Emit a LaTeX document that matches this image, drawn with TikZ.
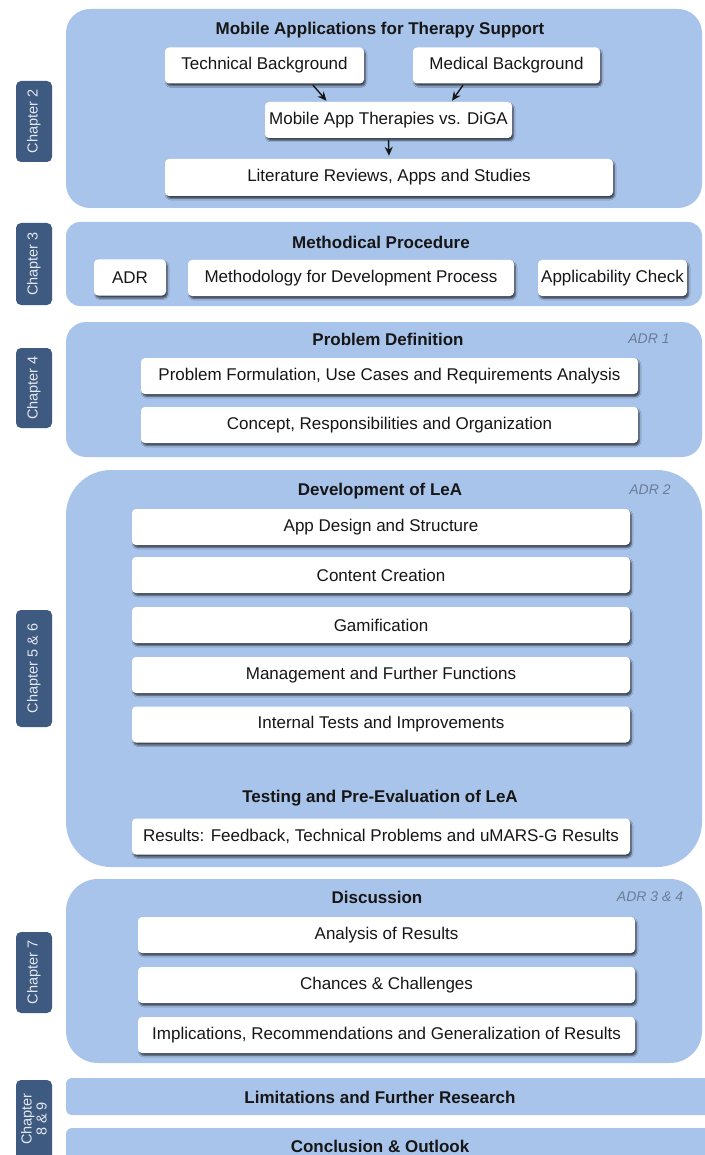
\documentclass[tikz,border=0pt]{standalone}
\usepackage{fontspec}
\setmainfont{Liberation Sans}
\usetikzlibrary{shadows.blur,arrows.meta}
\definecolor{panelblue}{HTML}{A9C4EB}
\definecolor{tabblue}{HTML}{3F5A80}
\definecolor{tabtext}{HTML}{E2E8F0}
\definecolor{adrgrey}{HTML}{6A7C96}
\definecolor{ink}{HTML}{161616}
\begin{document}
\begin{tikzpicture}[x=1pt,y=-1pt,
  panel/.style={fill=panelblue},
  tab/.style={fill=tabblue, rounded corners=5pt},
  tablabel/.style={rotate=90, text=tabtext, font=\fontsize{14.5}{15}\selectfont, align=center},
  box/.style={fill=white, rounded corners=4pt, minimum height=36pt, inner sep=0pt,
    font=\fontsize{17}{20}\selectfont, text=ink,
    blur shadow={shadow xshift=1.5pt, shadow yshift=-2.5pt, shadow blur radius=1.5pt,
      shadow blur steps=5, shadow opacity=65}},
  heading/.style={font=\bfseries\fontsize{17}{20}\selectfont, text=ink},
  adr/.style={font=\itshape\fontsize{14}{16}\selectfont, text=adrgrey},
  flow/.style={-{Stealth[length=9pt,width=8pt]}, line width=1.4pt, draw=ink}]

% canvas
\fill[white] (0,0) rectangle (704,1155);
\useasboundingbox (0,0) rectangle (704,1155);

% ---------- chapter panels ----------
\fill[panel, rounded corners=24pt] (66,9) rectangle (702,208);
\fill[panel, rounded corners=14pt] (66,222) rectangle (702,306);
\fill[panel, rounded corners=20pt] (66,322) rectangle (702,457);
\fill[panel, rounded corners=45pt] (66,470) rectangle (702,867);
\fill[panel, rounded corners=32pt] (66,879) rectangle (702,1063);
\fill[panel, rounded corners=6pt] (66,1078) rectangle (716,1115);
\fill[panel, rounded corners=6pt] (66,1128) rectangle (716,1175);

% ---------- chapter tabs ----------
\fill[tab] (16,81) rectangle (52,162);
\node[tablabel] (c2) at (34,121.5) {Chapter 2};
\fill[tab] (16,223) rectangle (52,305);
\node[tablabel] (c3) at (34,264) {Chapter 3};
\fill[tab] (16,348) rectangle (52,428);
\node[tablabel] (c4) at (34,388) {Chapter 4};
\fill[tab] (16,610) rectangle (52,727);
\node[tablabel] (c56) at (34,668.5) {Chapter 5 \& 6};
\fill[tab] (16,932) rectangle (52,1013);
\node[tablabel] (c7) at (34,972.5) {Chapter 7};
\fill[tab] (16,1080) rectangle (52,1175);
\node[tablabel, font=\fontsize{14.5}{15}\selectfont] (c89) at (34,1119) {Chapter\\8 \& 9};

% ---------- Chapter 2 ----------
\node[heading] (t2) at (380,30) {Mobile Applications for Therapy Support};
\node[box, minimum width=199pt] (tech) at (264.5,65.5) {Technical Background};
\node[box, minimum width=187pt] (med) at (506.5,65.5) {Medical Background};
\node[box, minimum width=247pt] (diga) at (388.5,120) {Mobile App Therapies vs. DiGA};
\node[box, minimum width=448pt, minimum height=37pt] (lit) at (389,177.5) {Literature Reviews, Apps and Studies};
\draw[flow] ([xshift=48.5pt,yshift=-1.5pt]tech.south) -- ([xshift=-62pt,yshift=1pt]diga.north);
\draw[flow] ([xshift=-43.5pt,yshift=-1.5pt]med.south) -- ([xshift=63.5pt,yshift=1pt]diga.north);
\draw[flow] ([yshift=-1.5pt]diga.south) -- ([yshift=3pt]lit.north);

% ---------- Chapter 3 ----------
\node[heading] (t3) at (381,242) {Methodical Procedure};
\node[box, minimum width=72pt] (adr) at (130,277.5) {ADR};
\node[box, minimum width=326pt] (meth) at (351,278) {Methodology for Development Process};
\node[box, minimum width=149pt] (appl) at (612.5,278) {Applicability Check};

% ---------- Chapter 4 ----------
\node[heading] (t4) at (388,339) {Problem Definition};
\node[adr] (a1) at (649,339) {ADR 1};
\node[box, minimum width=497pt] (prob) at (389.5,376) {Problem Formulation, Use Cases and Requirements Analysis};
\node[box, minimum width=497pt] (conc) at (389.5,425) {Concept, Responsibilities and Organization};

% ---------- Chapter 5 & 6 ----------
\node[heading] (t5) at (380,491) {Development of LeA};
\node[adr] (a2) at (650,490) {ADR 2};
\node[box, minimum width=498pt] (design) at (381,527) {App Design and Structure};
\node[box, minimum width=498pt] (content) at (381,575) {Content Creation};
\node[box, minimum width=498pt] (gami) at (381,625) {Gamification};
\node[box, minimum width=498pt] (mgmt) at (381,675) {Management and Further Functions};
\node[box, minimum width=498pt] (tests) at (381,724.5) {Internal Tests and Improvements};
\node[heading] (t6) at (380,798) {Testing and Pre-Evaluation of LeA};
\node[box, minimum width=498pt] (res) at (381,836.5) {Results: Feedback, Technical Problems and uMARS-G Results};

% ---------- Chapter 7 ----------
\node[heading] (t7) at (377,897) {Discussion};
\node[adr] (a34) at (650,897) {ADR 3 \& 4};
\node[box, minimum width=497pt] (anal) at (386.5,935) {Analysis of Results};
\node[box, minimum width=497pt] (chance) at (386.5,985) {Chances \& Challenges};
\node[box, minimum width=497pt] (impl) at (386.5,1035) {Implications, Recommendations and Generalization of Results};

% ---------- Chapters 8 & 9 ----------
\node[heading] (t8) at (380,1097) {Limitations and Further Research};
\node[heading] (t9) at (380,1146) {Conclusion \& Outlook};
\end{tikzpicture}
\end{document}
